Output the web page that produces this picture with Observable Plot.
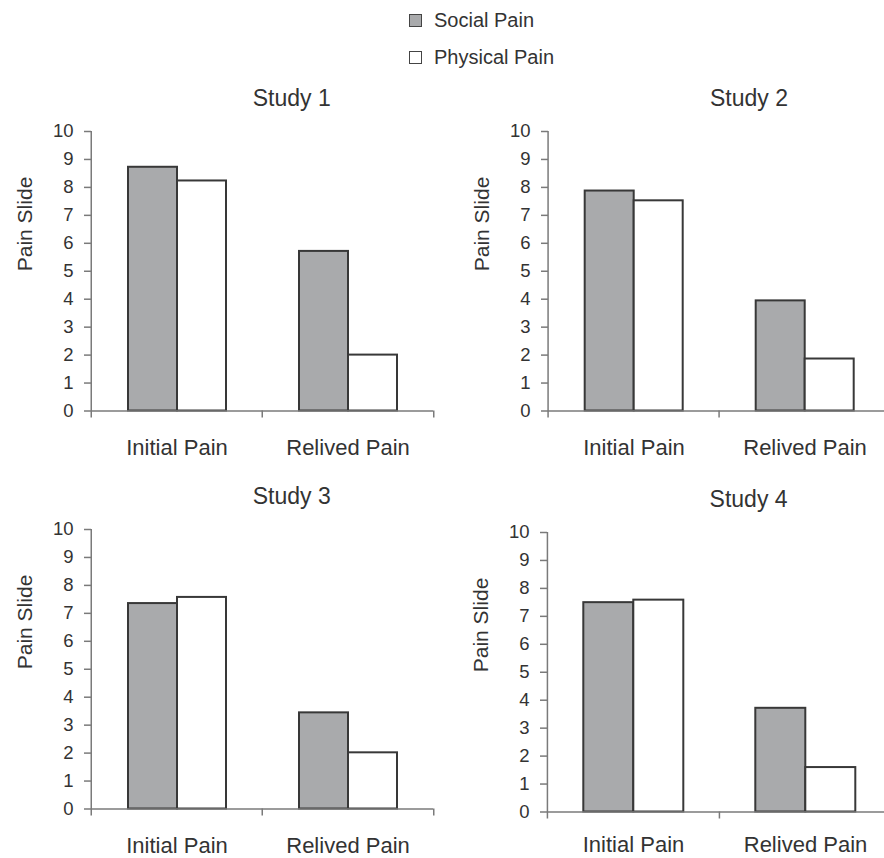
<!DOCTYPE html>
<html><head><meta charset="utf-8">
<script src="https://cdn.jsdelivr.net/npm/d3@7"></script>
<script src="https://cdn.jsdelivr.net/npm/@observablehq/plot@0.6"></script>
<style>
html,body{margin:0;padding:0;background:#fff;}
#root{position:relative;width:884px;height:858px;overflow:hidden;font-family:"Liberation Sans",Arial,sans-serif;color:#333;}
.panel{position:absolute;}
.panel svg{max-width:none !important;}
.lg-row{position:absolute;left:409px;height:20px;display:flex;align-items:center;font-size:20px;white-space:nowrap;}
.lg-sw{display:inline-block;width:11px;height:11px;border:1.6px solid #444;margin-right:12px;}
</style></head><body><div id="root"></div>
<script>
// ---- data ----
const studies = ["Study 1", "Study 2", "Study 3", "Study 4"];
const categories = ["Initial Pain", "Relived Pain"];
const series = ["Social Pain", "Physical Pain"];
const seriesColors = ["#a9aaac", "#ffffff"];
const socialPain = [[8.72, 5.71], [7.87, 3.94], [7.35, 3.44], [7.49, 3.71]];
const physicalPain = [[8.23, 2.0], [7.52, 1.86], [7.57, 2.01], [7.58, 1.59]];
const yTicks = [0, 1, 2, 3, 4, 5, 6, 7, 8, 9, 10];
const yLabel = "Pain Slide";

// ---- layout ----
const layout = [
  {left: 0, top: 80.7, width: 442, marginLeft: 90, marginRight: 9, labelPad: 28},
  {left: 442, top: 80.7, width: 450, marginLeft: 105.3, marginRight: 1, labelPad: 28},
  {left: 0, top: 479.3, width: 442, marginLeft: 90, marginRight: 9, labelPad: 28},
  {left: 442, top: 481.7, width: 450, marginLeft: 104.7, marginRight: 1, labelPad: 24}
];
const FONT = "'Liberation Sans', Arial, sans-serif";
const root = document.getElementById("root");

// legend
series.forEach((s, k) => {
  const row = document.createElement("div");
  row.className = "lg-row";
  row.style.top = (k === 0 ? 10.5 : 47.5) + "px";
  const sw = document.createElement("span");
  sw.className = "lg-sw";
  sw.style.background = seriesColors[k];
  row.appendChild(sw);
  const t = document.createElement("span");
  t.textContent = s;
  row.appendChild(t);
  root.appendChild(row);
});

studies.forEach((title, i) => {
  const p = layout[i];
  const bw = (p.width - p.marginLeft - p.marginRight) / categories.length;
  const data = categories.flatMap((c, j) => series.map((s, k) => ({
    category: c, series: s, value: (k === 0 ? socialPain : physicalPain)[i][j]
  })));
  const chart = Plot.plot({
    width: p.width, height: 389.5,
    marginLeft: p.marginLeft, marginRight: p.marginRight, marginTop: 50, marginBottom: 60,
    style: {fontFamily: FONT, color: "#333", background: "transparent", overflow: "visible", maxWidth: "none"},
    fx: {domain: categories, padding: 0, label: null},
    x: {domain: series, paddingInner: 0, paddingOuter: 0.715, axis: null},
    y: {domain: [0, 10], label: null},
    color: {domain: series, range: seriesColors},
    marks: [
      Plot.barY(data, {fx: "category", x: "series", y: "value", fill: "series", stroke: "#383838", strokeWidth: 2}),
      Plot.ruleY([0], {stroke: "#7a7a7a", strokeWidth: 1.5}),
      Plot.ruleX([categories[0]], {fx: d => d, x: null, dx: -bw / 2, insetBottom: -7, stroke: "#7a7a7a", strokeWidth: 1.5}),
      Plot.ruleX(categories.slice(1), {fx: d => d, x: null, y1: 0, y2: 0, dx: -bw / 2, insetBottom: -7, stroke: "#7a7a7a", strokeWidth: 1.5}),
      Plot.ruleX([categories[categories.length - 1]], {fx: d => d, x: null, y1: 0, y2: 0, dx: bw / 2, insetBottom: -7, stroke: "#7a7a7a", strokeWidth: 1.5}),
      Plot.axisY({ticks: yTicks, tickSize: 7, tickPadding: 11, fontSize: 18.5, stroke: "#7a7a7a", fill: "#333", strokeWidth: 1.5, label: null}),
      Plot.axisFx({anchor: "bottom", tickSize: 0, tickPadding: p.labelPad, fontSize: 22, fill: "#333", label: null}),
      Plot.text([categories[0]], {fx: d => d, x: null, y: null, text: () => yLabel, frameAnchor: "left", rotate: -90, dx: -66, fontSize: 21, fill: "#333"}),
      Plot.text([categories[0]], {fx: d => d, x: null, y: null, text: () => title, frameAnchor: "top", lineAnchor: "middle", dy: -32.5, dx: bw / 2 + 29, fontSize: 23, fill: "#333"})
    ]
  });
  const wrap = document.createElement("div");
  wrap.className = "panel";
  wrap.style.left = p.left + "px";
  wrap.style.top = p.top + "px";
  wrap.style.width = p.width + "px";
  wrap.appendChild(chart);
  root.appendChild(wrap);
});
</script></body></html>
